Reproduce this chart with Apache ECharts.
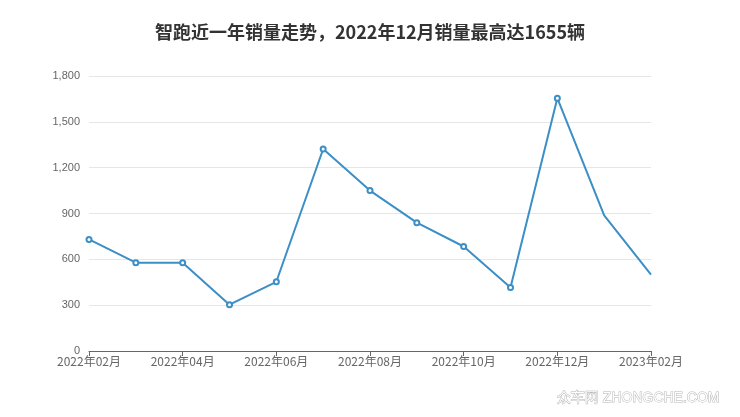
<!DOCTYPE html>
<html><head><meta charset="utf-8">
<script src="https://cdn.jsdelivr.net/npm/echarts@6/dist/echarts.min.js"></script>
<style>html,body{margin:0;padding:0;background:#fff}#c{width:740px;height:417px}</style>
</head><body><div id="c"></div>
<script>
const titleText = '智跑近一年销量走势，2022年12月销量最高达1655辆';
const months = ['2022年02月','2022年03月','2022年04月','2022年05月','2022年06月','2022年07月','2022年08月','2022年09月','2022年10月','2022年11月','2022年12月','2023年01月','2023年02月'];
const sales = [730, 578, 578, 303, 453, 1322, 1050, 840, 684, 415, 1655, 888, 500];
const hiddenSymbolIdx = [11, 12];

const chart = echarts.init(document.getElementById('c'));
chart.setOption({
  animation: false,
  title: { text: titleText, left: 'center', top: 18,
    textStyle: { fontSize: 18, fontWeight: 'bold', color: '#333', fontFamily: 'Noto Sans CJK SC' } },
  grid: { left: 89, right: 89, top: 76, bottom: 66 },
  xAxis: { type: 'category', data: months, boundaryGap: false,
    axisLine: { lineStyle: { color: '#666' } },
    axisTick: { show: true, interval: 1, length: 5, lineStyle: { color: '#666' } },
    axisLabel: { interval: 1, color: '#666', fontSize: 12, margin: 4, fontFamily: 'Noto Sans CJK SC' },
    splitLine: { show: false } },
  yAxis: { type: 'value', min: 0, max: 1800, interval: 300,
    axisLine: { show: false }, axisTick: { show: false },
    axisLabel: { color: '#666', fontSize: 11, margin: 9, fontFamily: 'Liberation Sans',
      formatter: v => v.toLocaleString('en-US') },
    splitLine: { lineStyle: { color: '#e6e6e6' } } },
  series: [{ type: 'line',
    data: sales.map((v, i) => hiddenSymbolIdx.includes(i) ? { value: v, symbol: 'none' } : v),
    symbol: 'emptyCircle', symbolSize: 5,
    lineStyle: { color: '#3b8fc6', width: 2 },
    itemStyle: { color: '#3b8fc6', borderWidth: 1.5 } }],
  graphic: [{ type: 'text', right: 20, bottom: 11,
    style: { text: '众车网 ZHONGCHE.COM', fill: '#fff', stroke: '#b5b5b5', lineWidth: 1, fontSize: 14, fontFamily: 'Liberation Sans' } }]
});
</script></body></html>
